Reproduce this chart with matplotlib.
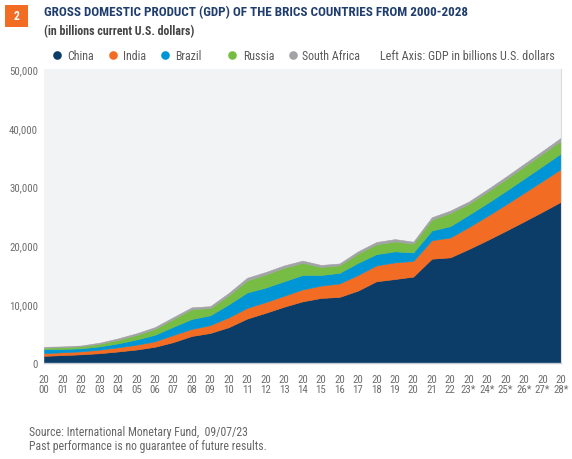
import matplotlib
matplotlib.use("Agg")
import matplotlib.pyplot as plt
from matplotlib.lines import Line2D
from matplotlib.patches import Rectangle
from matplotlib import font_manager as fm

# ---------------- data (billions current US$) ----------------
years = list(range(2000, 2029))
tick_labels = ["20\n00", "20\n01", "20\n02", "20\n03", "20\n04", "20\n05", "20\n06",
               "20\n07", "20\n08", "20\n09", "20\n10", "20\n11", "20\n12", "20\n13",
               "20\n14", "20\n15", "20\n16", "20\n17", "20\n18", "20\n19", "20\n20",
               "20\n21", "20\n22", "20\n23*", "20\n24*", "20\n25*", "20\n26*", "20\n27*",
               "20\n28*"]
china = [1211, 1339, 1471, 1660, 1955, 2286, 2752, 3550, 4594, 5101, 6087, 7552, 8532,
         9570, 10476, 11062, 11233, 12310, 13895, 14280, 14688, 17734, 17963, 19374,
         20881, 22460, 24080, 25730, 27430]
india = [468, 485, 515, 608, 709, 820, 940, 1217, 1199, 1342, 1676, 1823, 1828, 1857,
         2039, 2104, 2295, 2651, 2703, 2836, 2672, 3150, 3385, 3737, 4105, 4470, 4860,
         5230, 5570]
brazil = [655, 559, 509, 558, 669, 892, 1107, 1397, 1696, 1667, 2209, 2616, 2465, 2473,
          2456, 1802, 1796, 2064, 1917, 1873, 1448, 1649, 1924, 2081, 2190, 2300, 2420,
          2540, 2660]
russia = [260, 307, 345, 430, 591, 764, 990, 1300, 1661, 1223, 1525, 2046, 2208, 2292,
          2059, 1363, 1277, 1574, 1657, 1693, 1489, 1837, 2240, 1862, 1920, 1980, 2040,
          2090, 2140]
south_africa = [152, 136, 129, 197, 256, 288, 304, 333, 316, 330, 417, 458, 434, 400,
                381, 347, 323, 381, 405, 389, 338, 420, 406, 400, 420, 440, 460, 485, 510]
series_names = ["China", "India", "Brazil", "Russia", "South Africa"]
y_ticks = [0, 10000, 20000, 30000, 40000, 50000]

colors = ["#0c3d69", "#f26c23", "#0096d6", "#77bc43", "#a2a3a6"]

# ---------------- fonts ----------------
avail = {f.name for f in fm.fontManager.ttflist}
def pick(names):
    for n in names:
        if n in avail:
            return n
    return "DejaVu Sans"
FONT = pick(["Liberation Sans Narrow", "Roboto Condensed", "Liberation Sans", "Roboto"])
FAM = [FONT, "DejaVu Sans"]

W, H = 572, 460
fig = plt.figure(figsize=(W / 100, H / 100), dpi=100)
fig.patch.set_facecolor("white")
renderer = fig.canvas.get_renderer()

def ftext(x, y, s, width=None, size=8, **kw):
    kw.setdefault("va", "baseline")
    kw.setdefault("ha", "left")
    t = fig.text(x / W, 1 - y / H, s, fontsize=size, family=FAM, **kw)
    if width:
        w = t.get_window_extent(renderer).width
        t.set_fontsize(size * width / w)
    return t

# ---------------- header ----------------
fig.patches.append(Rectangle((5 / W, 1 - 28 / H), 23 / W, 22 / H,
                             transform=fig.transFigure, facecolor="#f26c23",
                             edgecolor="none"))
fig.text(16.5 / W, 1 - 17 / H, "2", color="white", fontsize=8.5, fontweight="bold",
         family=FAM, ha="center", va="center")
ftext(44, 16, "GROSS DOMESTIC PRODUCT (GDP) OF THE BRICS COUNTRIES FROM 2000-2028",
      width=425, size=9, color="#1f3d6d", fontweight="bold")
ftext(44, 35, "(in billions current U.S. dollars)", width=150, size=8,
      color="#444444", fontweight="bold")

# legend
leg_marker_x = [57, 113, 165, 232, 293]
leg_text_x = [67, 123, 175, 243, 302]
for name, c, mx, tx in zip(series_names, colors, leg_marker_x, leg_text_x):
    fig.add_artist(Line2D([mx / W], [1 - 56 / H], marker="o", markersize=6.2,
                          color=c, markeredgewidth=0, linestyle="none",
                          transform=fig.transFigure))
    ftext(tx, 60, name, size=8.6, color="#5a5a5a")
ftext(380, 60, "Left Axis: GDP in billions U.S. dollars", width=175, size=8.6,
      color="#5a5a5a")

# ---------------- axes ----------------
ax = fig.add_axes([44 / W, (H - 364) / H, (561 - 44) / W, (364 - 70) / H])
ax.set_facecolor("#f2f3f5")
polys = ax.stackplot(years, china, india, brazil, russia, south_africa, colors=colors,
                     linewidth=0)
for p, c in zip(polys, colors):
    p.set_edgecolor(c)
    p.set_linewidth(0.4)
ax.set_xlim(years[0], years[-1])
ax.set_ylim(y_ticks[0], y_ticks[-1])
ax.set_yticks(y_ticks)
ax.set_yticklabels([f"{v:,}" for v in y_ticks])
ax.set_xticks(years)
ax.set_xticklabels(tick_labels, linespacing=0.95)
for s in ["top", "left"]:
    ax.spines[s].set_visible(False)
ax.spines["bottom"].set_color("#c3c8d1")
ax.spines["bottom"].set_linewidth(1.0)
ax.spines["right"].set_color("#d9dce1")
ax.spines["right"].set_linewidth(0.8)
ax.tick_params(axis="both", length=0, labelsize=7.8, labelcolor="#6d6d6d")
ax.tick_params(axis="y", pad=4.3)
ax.tick_params(axis="x", pad=8)
for lab in ax.get_xticklabels() + ax.get_yticklabels():
    lab.set_family(FAM)

# ---------------- footer ----------------
f2 = ftext(29, 450, "Past performance is no guarantee of future results.", width=238,
           size=8, color="#666666")
ftext(29, 436, "Source: International Monetary Fund,  09/07/23", size=f2.get_fontsize(),
      color="#666666")

fig.savefig("out.png", dpi=100)
